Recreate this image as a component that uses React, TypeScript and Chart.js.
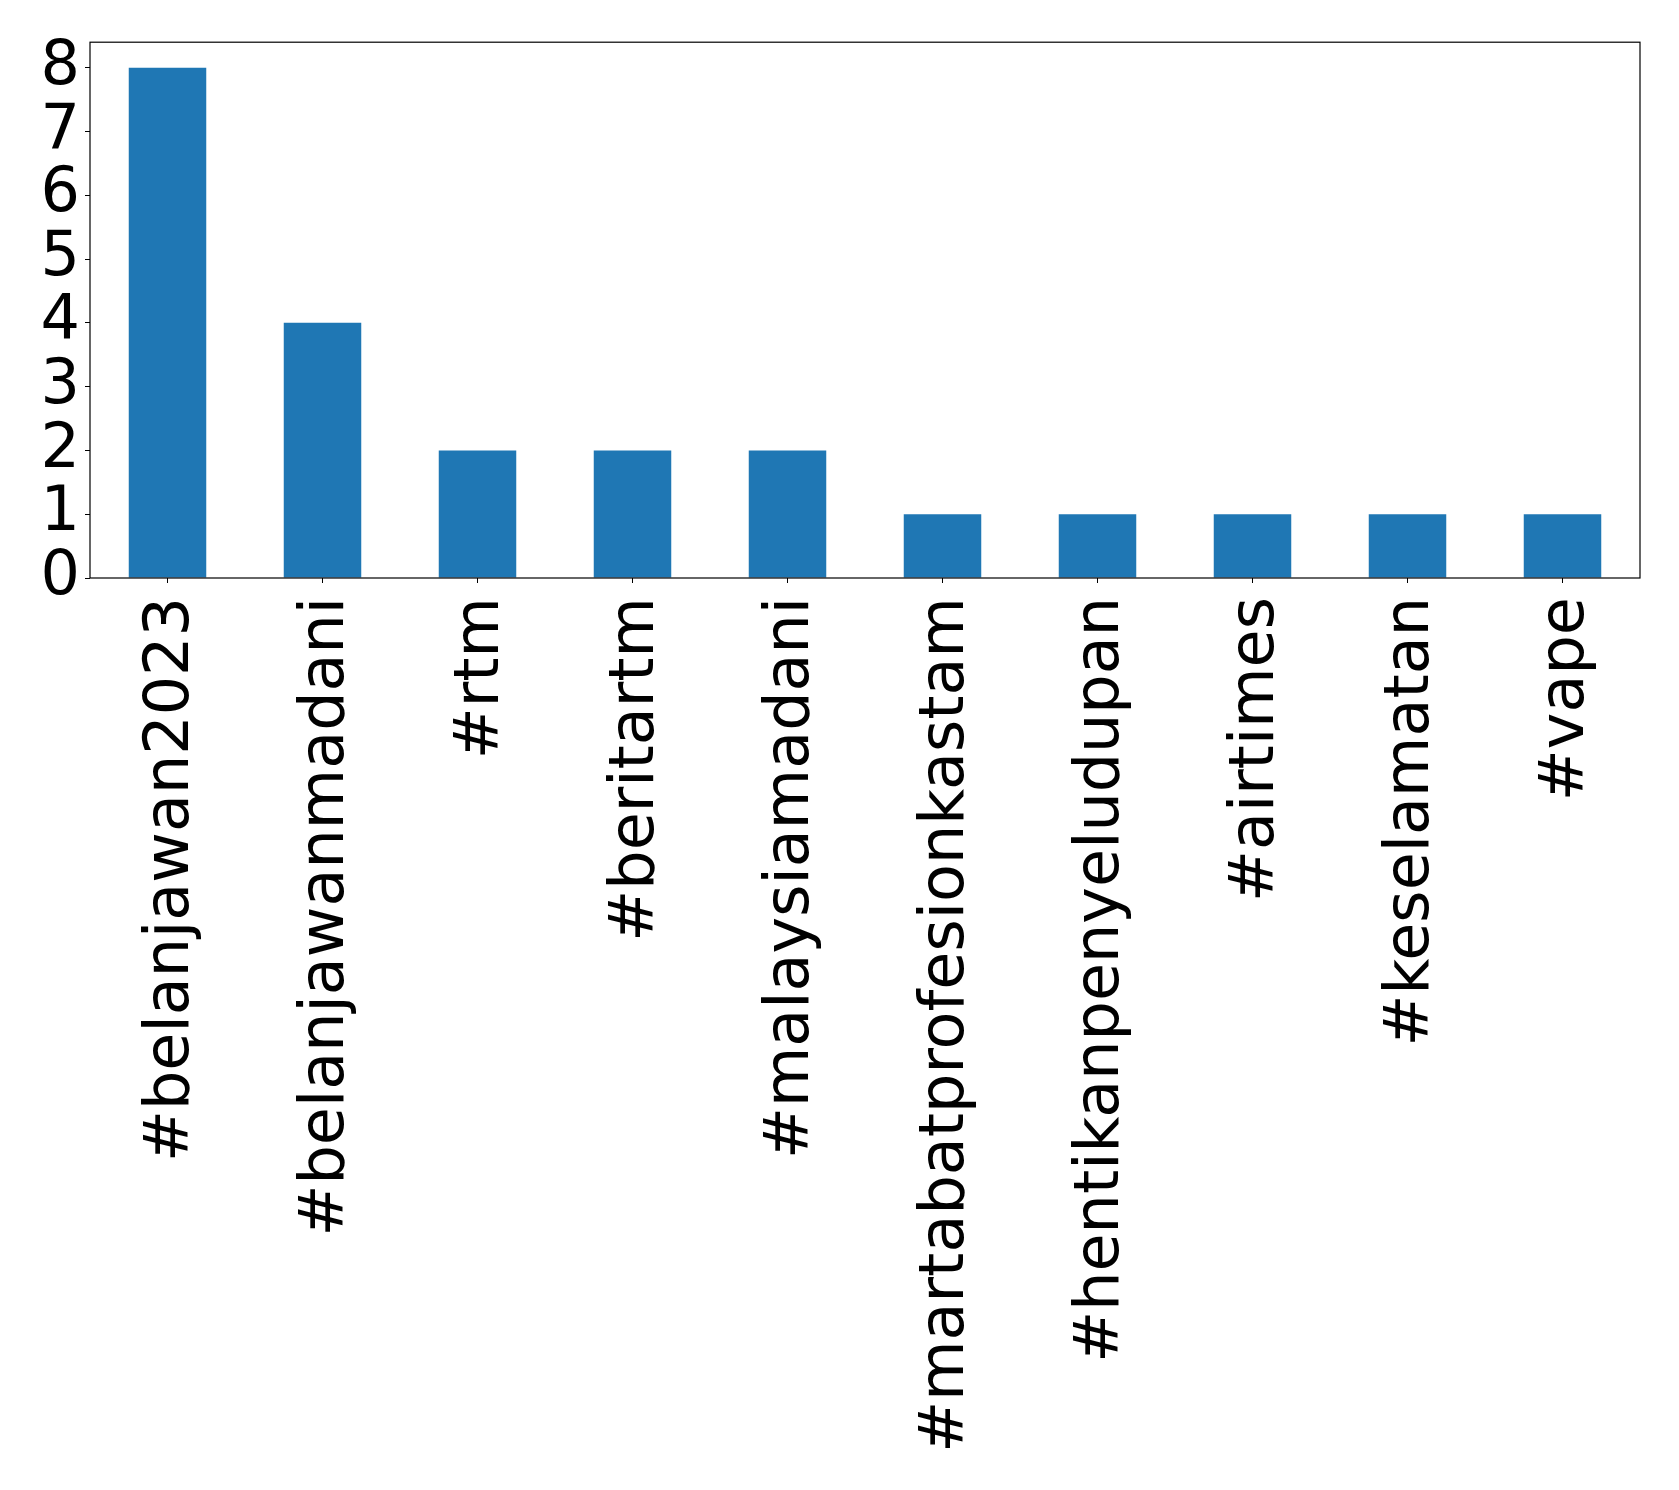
import React, { useEffect, useRef } from "react";
import { Chart, registerables } from "chart.js";

Chart.register(...registerables);

const categories = [
  "#belanjawan2023",
  "#belanjawanmadani",
  "#rtm",
  "#beritartm",
  "#malaysiamadani",
  "#martabatprofesionkastam",
  "#hentikanpenyeludupan",
  "#airtimes",
  "#keselamatan",
  "#vape",
];
const counts = [8, 4, 2, 2, 2, 1, 1, 1, 1, 1];
const yTicks = [0, 1, 2, 3, 4, 5, 6, 7, 8];

const W = 1679;
const H = 1490;
const LEFT = 90;
const TOP = 39;
const RIGHT = 1640;
const BOTTOM = 578;

const frame = {
  id: "frame",
  afterDraw(chart: any) {
    const { ctx, chartArea } = chart;
    ctx.save();
    ctx.strokeStyle = "#000";
    ctx.lineWidth = 1.2;
    ctx.strokeRect(chartArea.left, chartArea.top, chartArea.right - chartArea.left, chartArea.bottom - chartArea.top);
    ctx.restore();
  },
};

export default function App() {
  const ref = useRef<HTMLCanvasElement | null>(null);
  useEffect(() => {
    if (!ref.current) return;
    const chart = new Chart(ref.current, {
      type: "bar",
      data: {
        labels: categories,
        datasets: [
          {
            data: counts,
            backgroundColor: "#1f77b4",
            barPercentage: 0.5,
            categoryPercentage: 1,
          },
        ],
      },
      plugins: [frame],
      options: {
        animation: false,
        responsive: false,
        devicePixelRatio: 1,
        layout: { padding: { left: 0, top: TOP, right: W - RIGHT, bottom: 0 } },
        plugins: { legend: { display: false }, tooltip: { enabled: false } },
        scales: {
          x: {
            offset: true,
            grid: { display: true, drawOnChartArea: false, tickLength: 5, color: "#000", offset: false },
            border: { display: false },
            ticks: {
              autoSkip: false,
              maxRotation: 90,
              minRotation: 90,
              padding: 14,
              labelOffset: 4,
              color: "#000",
              font: { family: "DejaVu Sans", size: 62 },
            },
            afterFit: (s: any) => {
              s.height = H - BOTTOM;
            },
          },
          y: {
            min: 0,
            max: 8.4,
            afterBuildTicks: (s: any) => {
              s.ticks = yTicks.map((v) => ({ value: v }));
            },
            grid: { display: true, drawOnChartArea: false, tickLength: 5, color: "#000" },
            border: { display: false },
            ticks: {
              autoSkip: false,
              padding: 5,
              color: "#000",
              font: { family: "DejaVu Sans", size: 62 },
            },
            afterFit: (s: any) => {
              s.width = LEFT;
            },
          },
        },
      },
    });
    return () => chart.destroy();
  }, []);
  return (
    <div style={{ position: "absolute", left: 0, top: 0, width: W, height: H, background: "#fff" }}>
      <canvas ref={ref} width={W} height={H} style={{ width: W, height: H }} />
    </div>
  );
}
